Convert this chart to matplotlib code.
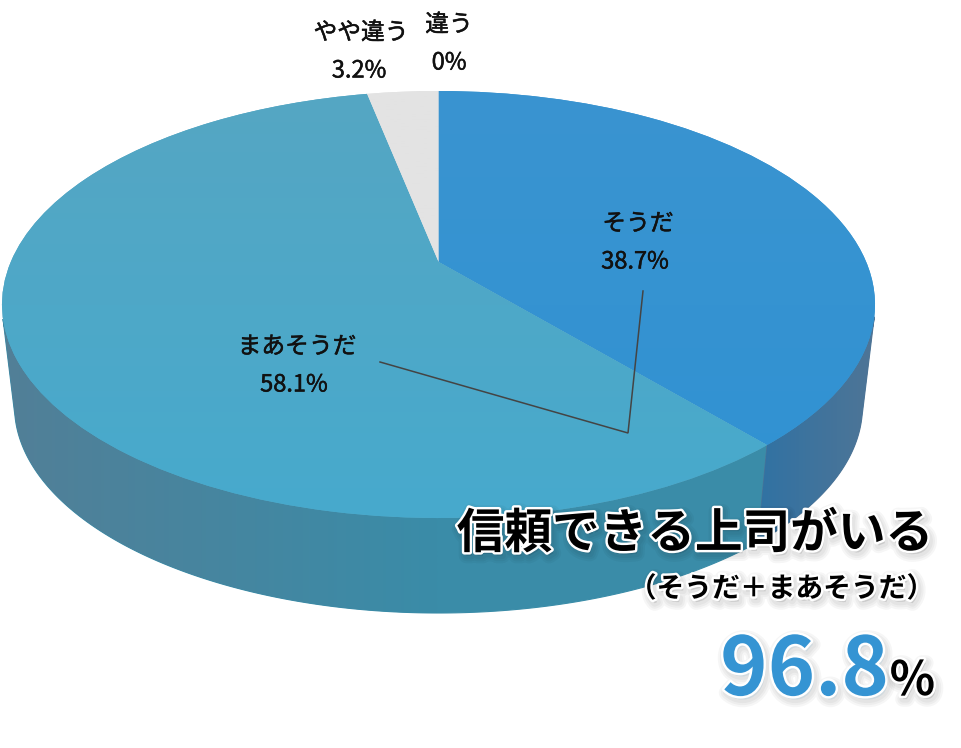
import numpy as np
import matplotlib
matplotlib.use("Agg")
import matplotlib.pyplot as plt
import matplotlib.patheffects as pe
from matplotlib.colors import LinearSegmentedColormap
from matplotlib.transforms import Transform

plt.rcParams['font.family'] = ['Noto Sans CJK JP', 'DejaVu Sans']

labels = ["そうだ", "まあそうだ", "やや違う", "違う"]
values = [38.7, 58.1, 3.2, 0]
percent_labels = ["38.7%", "58.1%", "3.2%", "0%"]
top_colors = [("#3a94d0", "#3092d3"), ("#55a6c3", "#47aacd"), ("#e3e3e3", "#e3e3e3"), ("#e3e3e3", "#e3e3e3")]
side_colors = [("#3172a3", "#4f7596"), ("#527f97", "#3a8ca8"), ("#999999", "#999999"), ("#999999", "#999999")]
title = "信頼できる上司がいる"
subtitle = "（そうだ＋まあそうだ）"
total_value = "96.8"


# unit circle seen in perspective, the pie centre is not the ellipse centre
class Persp(Transform):
    input_dims = 2
    output_dims = 2

    def __init__(self, a, b, cx, cy, k):
        super().__init__()
        self.a, self.b, self.cx, self.cy, self.k = a, b, cx, cy, k

    def transform_non_affine(self, values):
        u, v = values[:, 0], values[:, 1]
        d = 1 + self.k * v
        x = self.a * np.sqrt(1 - self.k ** 2) * u / d
        y = self.b * (v + self.k) / d
        return np.column_stack([self.cx + x, self.cy - y])


top = Persp(436.5, 213.5, 438.5, 304.5, 0.2)
bottom = Persp(424, 207, 438.5, 406, 0.2)

fig = plt.figure(figsize=(9.61, 7.48), dpi=100)
ax = fig.add_axes([0, 0, 1, 1])

wedges, _ = ax.pie(values, startangle=90, counterclock=False, radius=1,
                   colors=[c[0] for c in top_colors], wedgeprops={"linewidth": 0})

# side wall, one polygon per slice with a sideways gradient clipped to it
# teal first so the blue one overlaps the joint between them
edges = 360 * np.cumsum([0] + values) / sum(values)
for i in [1, 0]:
    t = np.radians(np.linspace(edges[i], edges[i + 1], 400))
    circle = np.column_stack([np.sin(t), np.cos(t)])
    up = top.transform(circle)
    low = bottom.transform(circle)
    # keep only the part of the rim that faces the viewer
    d = np.diff(up, axis=0)
    e = (low - up)[:-1]
    front = d[:, 0] * e[:, 1] - d[:, 1] * e[:, 0] < 0
    front = np.append(front, front[-1])
    up, low = up[front], low[front]
    outline = np.vstack([up, low[::-1]])
    poly = ax.fill(outline[:, 0], outline[:, 1], color=side_colors[i][1], lw=0.8, zorder=1 + (1 - i) * 0.5)[0]
    x0, x1 = (0, 438) if i == 1 else (760, 876)
    im = ax.imshow(np.linspace(0, 1, 256).reshape(1, -1), extent=(x0, x1, 620, 90),
                   cmap=LinearSegmentedColormap.from_list("side", side_colors[i]),
                   aspect="auto", zorder=1.2 + (1 - i) * 0.5)
    im.set_clip_path(poly)

# top face, soft vertical gradient clipped to each wedge
grad = np.linspace(0, 1, 256).reshape(-1, 1)
for w, c in zip(wedges, top_colors):
    w.set_transform(top + ax.transData)
    w.set_zorder(2)
    im = ax.imshow(grad, extent=(0, 961, 520, 90), cmap=LinearSegmentedColormap.from_list("t", c),
                   aspect="auto", zorder=3)
    im.set_clip_path(w)

ax.set_aspect("auto")
ax.set_xlim(0, 961)
ax.set_ylim(748, 0)
ax.axis("off")

# leader line
ax.plot([380, 628, 643], [362, 433, 291], color="#444444", lw=1.1, zorder=4, solid_joinstyle="miter")

thicker = [pe.Stroke(linewidth=0.35, foreground="#111111"), pe.Normal()]
label_pos = [(638, 224), (297, 347), (361, 33), (449, 25)]
pct_shift = [-3, -3, -2, 0]
for name, pct, (x, y), dx in zip(labels, percent_labels, label_pos, pct_shift):
    ax.text(x, y, name, fontsize=17.1, ha="center", va="center", color="#111111", zorder=5,
            path_effects=thicker)
    ax.text(x + dx, y + 38, pct, fontsize=17, ha="center", va="center", color="#111111", zorder=5,
            path_effects=thicker)

shadow = [pe.Stroke(linewidth=w, foreground="black", alpha=0.035, offset=(1.5, -2.5)) for w in (11, 8, 5)]
halo = shadow + [pe.Stroke(linewidth=3.5, foreground="white"), pe.Normal()]

ax.text(933, 534, title, fontsize=34.3, fontweight="bold", ha="right", va="center", color="black",
        zorder=6, path_effects=halo)
ax.text(934, 589, subtitle, fontsize=20, fontweight="bold", ha="right", va="center", color="black",
        zorder=6, path_effects=halo)
ax.text(889, 695, total_value, fontsize=58, fontweight="bold", ha="right", va="baseline", color="#3594d3",
        zorder=6, path_effects=halo)
ax.text(935, 695, "%", fontsize=34, fontweight="bold", ha="right", va="baseline", color="black",
        zorder=6, path_effects=halo)

fig.savefig("out.png", dpi=100)
